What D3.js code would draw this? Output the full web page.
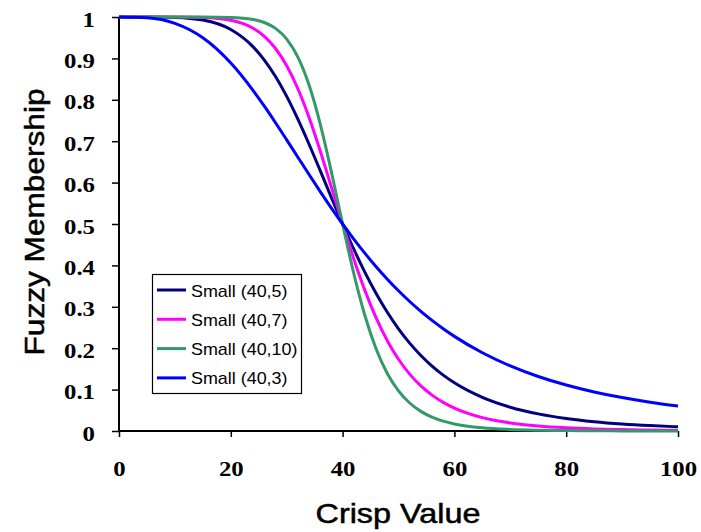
<!DOCTYPE html>
<html><head><meta charset="utf-8">
<script src="https://cdn.jsdelivr.net/npm/d3@7"></script>
<style>
body{margin:0;background:#fff;}
svg{display:block;}
text{font-family:"Liberation Sans",Arial,sans-serif;}
</style></head>
<body>
<svg id="chart" width="701" height="532"></svg>
<script>
const xValues = [0,5,10,15,20,24,26,28,30,32,34,36,38,40,42,44,46,48,50,52,54,56,58,60,65,70,75,80,85,90,95,100];
const small5 = [1,1,0.9990,0.99264,0.9697,0.92786,0.89603,0.85612,0.80821,0.75320,0.69266,0.62874,0.56377,0.5,0.43932,0.38307,0.33208,0.28668,0.24681,0.21218,0.18234,0.15679,0.13496,0.11636,0.08109,0.05743,0.04137,0.03030,0.02256,0.01705,0.01306,0.01014];
const small7 = [1,1,0.99994,0.99896,0.99225,0.97277,0.95327,0.92393,0.88224,0.82665,0.75725,0.67645,0.58881,0.5,0.41544,0.33913,0.27322,0.21819,0.17336,0.13746,0.10903,0.08665,0.06908,0.05529,0.03234,0.01951,0.01213,0.00775,0.00508,0.00341,0.00234,0.00164];
const small10 = [1,1,1,0.99994,0.99902,0.99399,0.98672,0.97253,0.94669,0.90305,0.83551,0.74147,0.62550,0.5,0.38039,0.27826,0.19820,0.13905,0.09696,0.06763,0.04738,0.03342,0.02376,0.01705,0.00773,0.00370,0.00186,0.00098,0.00053,0.00030,0.00018,0.00010];
const small3 = [1,0.99805,0.9846,0.9499,0.8889,0.8224,0.78455,0.74460,0.70330,0.66138,0.61953,0.57837,0.53838,0.5,0.46349,0.42900,0.39669,0.36657,0.33862,0.31279,0.28899,0.26709,0.24700,0.22857,0.18900,0.15725,0.13172,0.11111,0.09438,0.08071,0.06946,0.06015];
const seriesNames = ["Small (40,5)","Small (40,7)","Small (40,10)","Small (40,3)"];
const seriesColors = ["#000080","#ff00ff","#339966","#0000ff"];
const xTicks = [0,20,40,60,80,100];
const yTicks = [0,0.1,0.2,0.3,0.4,0.5,0.6,0.7,0.8,0.9,1];
const xTitle = "Crisp Value";
const yTitle = "Fuzzy Membership";

const series = [small5, small7, small10, small3];
const svg = d3.select("#chart");
const x = d3.scaleLinear().domain([0,100]).range([119,678]);
const y = d3.scaleLinear().domain([0,1]).range([431,17]);
const SX = 1.18;

// axes
const yAxis = svg.append("g").attr("transform","translate(119,0)")
  .call(d3.axisLeft(y).tickValues(yTicks).tickSize(7).tickFormat(d=>d===0?"0":d===1?"1":d3.format(".1f")(d)));
const xAxis = svg.append("g").attr("transform","translate(0,431)")
  .call(d3.axisBottom(x).tickValues(xTicks).tickSize(6).tickFormat(d3.format("d")));
[yAxis,xAxis].forEach(a=>{
  a.select(".domain").attr("stroke","#000").attr("stroke-width",2);
  a.selectAll(".tick line").attr("stroke","#000").attr("stroke-width",1.5);
  a.selectAll(".tick text").attr("fill","#000").attr("font-size",21).attr("font-weight","bold")
    .style("font-family","'Liberation Serif','Times New Roman',serif");
});
yAxis.selectAll(".tick text").attr("x",-24/SX).attr("dy",null).attr("y",9)
  .attr("transform",`scale(${SX},1)`);
xAxis.selectAll(".tick text").attr("dy",null).attr("y",45)
  .attr("transform",`scale(${SX},1)`);
xAxis.select(".domain").attr("d","M119,0H678");
yAxis.select(".domain").attr("d","M0,17V431");

// lines
const line = d3.line().x((d,i)=>x(xValues[i])).y(d=>y(d)).curve(d3.curveMonotoneX);
series.forEach((s,i)=>{
  svg.append("path").datum(s).attr("d",line).attr("fill","none")
    .attr("stroke",seriesColors[i]).attr("stroke-width",3).attr("stroke-linejoin","round");
});

// titles
svg.append("text").attr("x",398).attr("y",523).attr("text-anchor","middle")
  .attr("font-size",28).attr("textLength",165).attr("lengthAdjust","spacingAndGlyphs")
  .attr("fill","#000").attr("stroke","#000").attr("stroke-width",0.5).text(xTitle);
svg.append("text").attr("transform","translate(44,222) rotate(-90)").attr("text-anchor","middle")
  .attr("font-size",28).attr("textLength",267).attr("lengthAdjust","spacingAndGlyphs")
  .attr("fill","#000").attr("stroke","#000").attr("stroke-width",0.5).text(yTitle);

// legend
const lg = svg.append("g");
lg.append("rect").attr("x",152.5).attr("y",274.5).attr("width",149).attr("height",119)
  .attr("fill","#fff").attr("stroke","#000").attr("stroke-width",1.2);
seriesNames.forEach((n,i)=>{
  const yy = 290 + i*29.3;
  lg.append("line").attr("x1",157).attr("x2",186).attr("y1",yy).attr("y2",yy)
    .attr("stroke",seriesColors[i]).attr("stroke-width",3);
  lg.append("text").attr("transform",`translate(191,${yy+6.5}) scale(1.12,1)`)
    .attr("font-size",16).attr("fill","#000").text(n);
});
</script>
</body></html>
